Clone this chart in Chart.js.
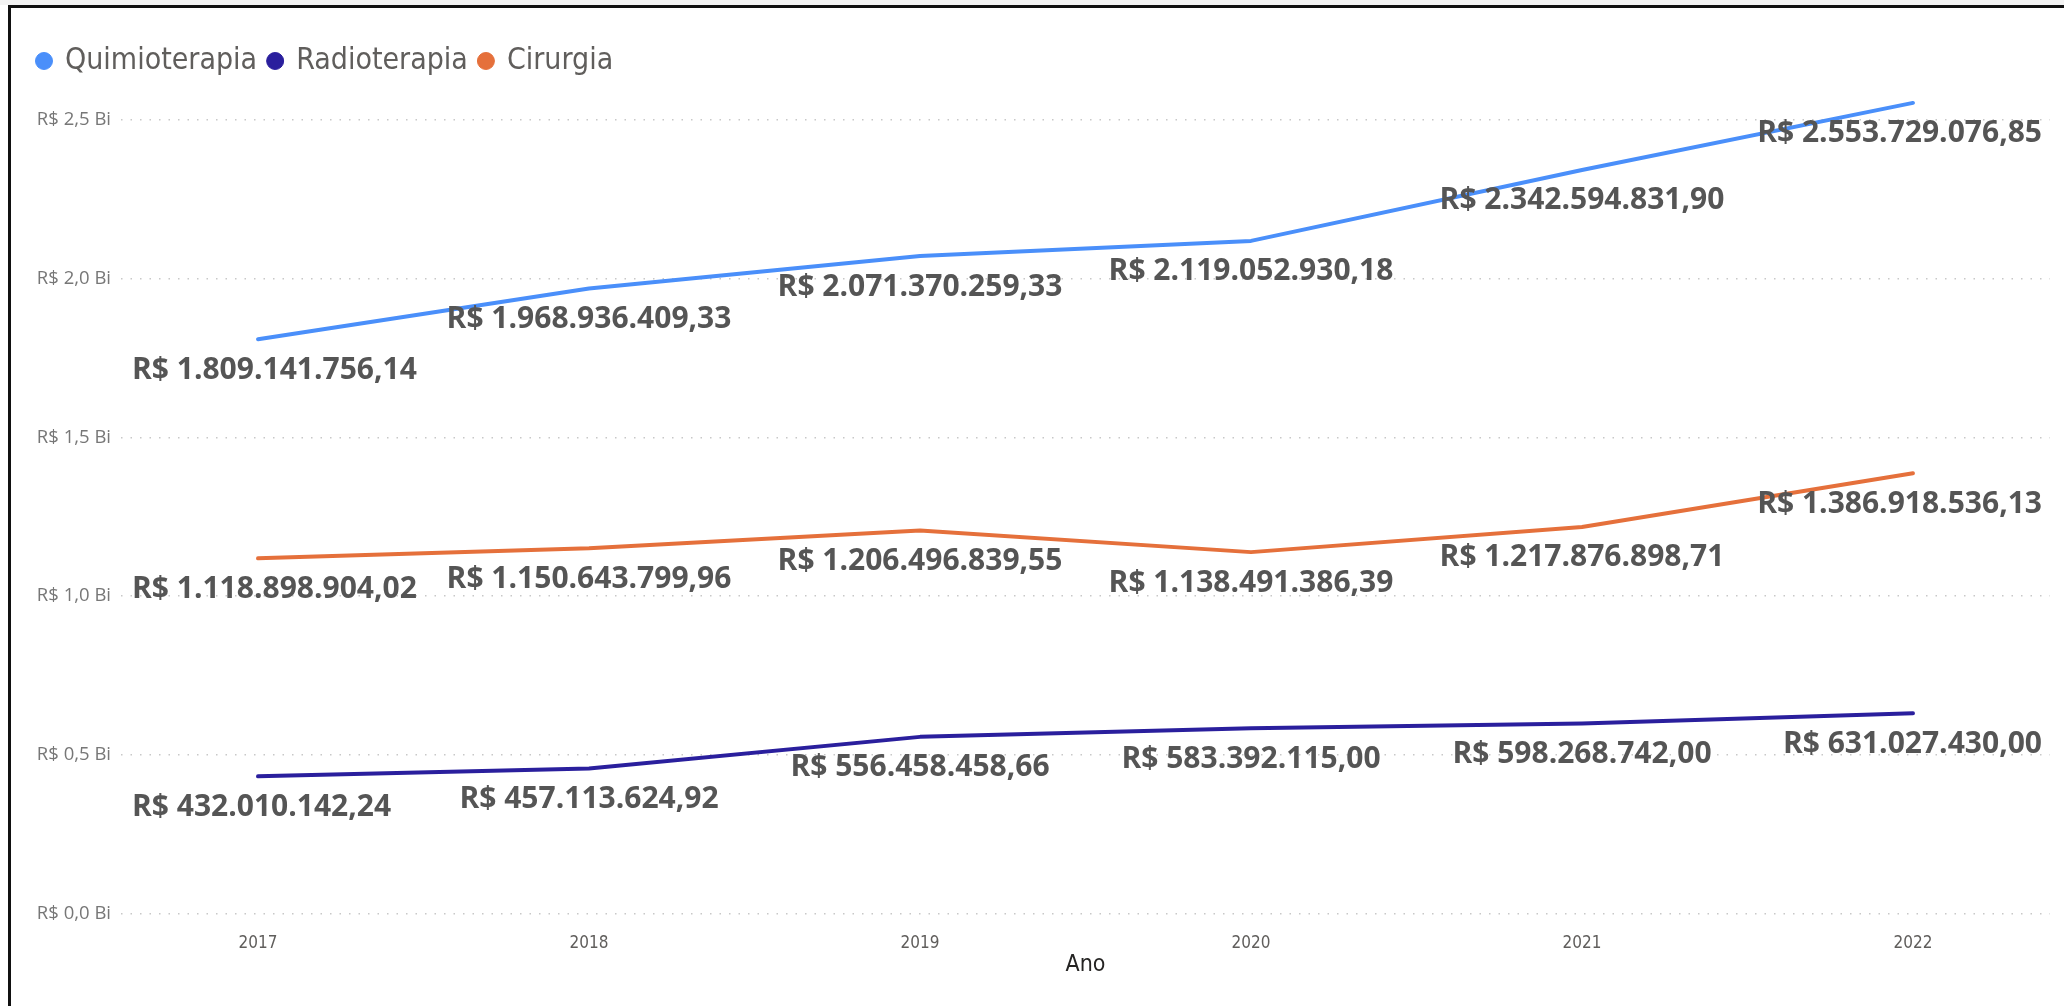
<!DOCTYPE html>
<html>
<head>
<meta charset="utf-8">
<script src="https://cdn.jsdelivr.net/npm/chart.js@4.4.1/dist/chart.umd.min.js"></script>
<style>
  html, body { margin: 0; padding: 0; background: #ffffff; overflow: hidden; }
  #wrap { position: absolute; left: 0; top: 0; width: 2064px; height: 1006px; }
  #topband { position: absolute; left: 0; top: 0; width: 2064px; height: 5px; background: #f3f3f3; }
  #frame { position: absolute; left: 8px; top: 5px; width: 2056px; height: 1001px;
           border-top: 3px solid #111; border-left: 3px solid #111; box-sizing: border-box; pointer-events: none; }
  canvas { position: absolute; left: 0; top: 0; }
</style>
</head>
<body>
<div id="wrap">
  <canvas id="c" width="2064" height="1006"></canvas>
  <div id="topband"></div>
  <div id="frame"></div>
</div>
<script>
// ---- data ----
const years = [2017, 2018, 2019, 2020, 2021, 2022];
const quimioterapia = [1809141756.14, 1968936409.33, 2071370259.33, 2119052930.18, 2342594831.90, 2553729076.85];
const radioterapia  = [432010142.24, 457113624.92, 556458458.66, 583392115.00, 598268742.00, 631027430.00];
const cirurgia      = [1118898904.02, 1150643799.96, 1206496839.55, 1138491386.39, 1217876898.71, 1386918536.13];
const seriesNames = ['Quimioterapia', 'Radioterapia', 'Cirurgia'];
const yTickValues = [0, 500000000, 1000000000, 1500000000, 2000000000, 2500000000];
const xAxisTitle = 'Ano';

const colors = ['#4a8ffa', '#2a1f9d', '#e5703b'];

function fmtBRL(v) {
  const neg = v < 0; v = Math.abs(v);
  const cents = Math.round(v * 100);
  let intPart = Math.floor(cents / 100).toString();
  const dec = (cents % 100).toString().padStart(2, '0');
  intPart = intPart.replace(/\B(?=(\d{3})+(?!\d))/g, '.');
  return (neg ? '-' : '') + 'R$ ' + intPart + ',' + dec;
}
function fmtBi(v) {
  return 'R$ ' + (v / 1e9).toFixed(1).replace('.', ',') + ' Bi';
}

const dataLabelPlugin = {
  id: 'pbiLabels',
  afterDatasetsDraw(chart) {
    const ctx = chart.ctx;
    const area = chart.chartArea;
    ctx.save();
    ctx.font = 'bold 30px "Open Sans", "DejaVu Sans", sans-serif';
    ctx.fillStyle = '#555555';
    ctx.textAlign = 'center';
    ctx.textBaseline = 'middle';
    chart.data.datasets.forEach((ds, di) => {
      const meta = chart.getDatasetMeta(di);
      meta.data.forEach((el, i) => {
        const txt = fmtBRL(ds.data[i].y);
        const w = ctx.measureText(txt).width;
        let x = el.x;
        const minX = area.left + 11 + w / 2;
        const maxX = area.right - 8 - w / 2;
        if (x < minX) x = minX;
        if (x > maxX) x = maxX;
        ctx.fillText(txt, x, el.y + 31);
      });
    });
    ctx.restore();
  }
};

function toPoints(arr) { return years.map((y, i) => ({ x: y, y: arr[i] })); }

const chart = new Chart(document.getElementById('c'), {
  type: 'line',
  data: {
    datasets: [
      { label: seriesNames[0], data: toPoints(quimioterapia), borderColor: colors[0], backgroundColor: colors[0] },
      { label: seriesNames[1], data: toPoints(radioterapia), borderColor: colors[1], backgroundColor: colors[1] },
      { label: seriesNames[2], data: toPoints(cirurgia), borderColor: colors[2], backgroundColor: colors[2] }
    ]
  },
  options: {
    responsive: false,
    animation: false,
    devicePixelRatio: 1,
    layout: { padding: { left: 26, top: 34, right: 14, bottom: 0 } },
    elements: {
      line: { borderWidth: 4, tension: 0, borderCapStyle: 'round', borderJoinStyle: 'round' },
      point: { radius: 0, hoverRadius: 0 }
    },
    plugins: {
      legend: {
        position: 'top',
        align: 'start',
        labels: {
          usePointStyle: true,
          pointStyle: 'circle',
          boxWidth: 12,
          boxHeight: 12,
          padding: 12,
          color: '#605e5c',
          font: { family: '"DejaVu Sans Condensed", "DejaVu Sans", sans-serif', size: 30 }
        }
      },
      tooltip: { enabled: false }
    },
    scales: {
      x: {
        type: 'linear',
        min: 2016.586,
        max: 2022.414,
        afterBuildTicks(scale) { scale.ticks = years.map(v => ({ value: v })); },
        afterFit(scale) { scale.height = 92.5; },
        grid: { display: false },
        border: { display: false },
        ticks: {
          padding: 12,
          color: '#605e5c',
          maxRotation: 0,
          font: { family: '"DejaVu Sans Condensed", "DejaVu Sans", sans-serif', size: 17 },
          callback: (v) => String(v)
        },
        title: {
          display: true,
          text: xAxisTitle,
          color: '#252423',
          font: { family: '"DejaVu Sans Condensed", "DejaVu Sans", sans-serif', size: 23 },
          padding: { top: 0, bottom: 27 }
        }
      },
      y: {
        min: 0,
        max: 2607000000,
        afterBuildTicks(scale) { scale.ticks = yTickValues.map(v => ({ value: v })); },
        afterFit(scale) { scale.width = 95; },
        grid: { color: '#c8c8c8', lineWidth: 1.5, drawTicks: false },
        border: { display: false, dash: [1.5, 8] },
        ticks: {
          padding: 10,
          color: '#777777',
          font: { family: '"Open Sans", sans-serif', size: 18.5 },
          callback: (v) => fmtBi(v)
        }
      }
    }
  },
  plugins: [dataLabelPlugin]
});
</script>
</body>
</html>
